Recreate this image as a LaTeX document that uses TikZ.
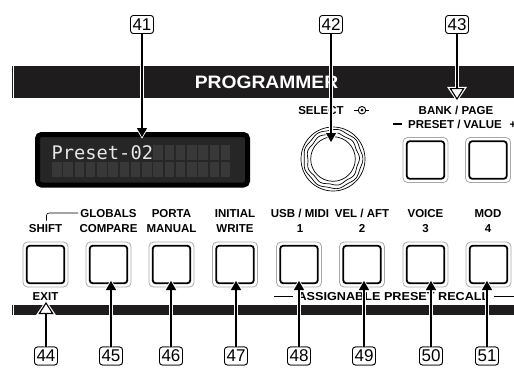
\documentclass[tikz,border=0pt]{standalone}
\usepackage{fontspec}
\setmainfont{Liberation Sans}
\newfontfamily\lcdfont{DejaVu Sans Mono}
\usetikzlibrary{arrows.meta,calc}
\definecolor{barblack}{HTML}{1F1C1D}
\definecolor{lcdbg}{HTML}{262626}
\definecolor{lcdcell}{HTML}{383838}
\definecolor{lcdtext}{HTML}{E6E6E6}
\definecolor{btngray}{HTML}{A8A8A8}
\begin{document}
\begin{tikzpicture}[x=1pt,y=-1pt,
 lbl/.style={font=\bfseries\fontsize{11.5}{11.5}\selectfont, inner sep=0pt, anchor=base},
 numbox/.style={draw, line width=0.8pt, rounded corners=3pt, minimum width=23pt, minimum height=18pt, inner sep=0pt, fill=white, font=\fontsize{17}{17}\selectfont},
 btnouter/.style={draw=btngray, line width=0.8pt, fill=white, rounded corners=4.5pt, minimum size=45pt, inner sep=0pt},
 btninner/.style={draw=black, line width=1.8pt, rounded corners=3pt, minimum size=37.5pt, inner sep=0pt},
 halo/.style={draw=white, line width=4pt, shorten >=-1.8pt},
 solidhalo/.style={halo, -{Triangle[length=12pt,width=13pt]}},
 openhalo/.style={halo, -{Triangle[length=15pt,width=19pt]}},
 solidtip/.style={draw=black, line width=1.2pt, -{Triangle[length=9pt,width=10pt]}},
 opentip/.style={draw=black, line width=1.1pt, -{Triangle[length=12pt,width=15pt,fill=white]}},
 cell/.style={fill=lcdcell},
]
\useasboundingbox (0,0) rectangle (514,367);

% bars
\fill[barblack] (14,66) rectangle (514,97.5);
\draw[barblack, line width=0.9pt] (12.3,66) -- (12.3,97.5);
\fill[barblack] (14,304.5) rectangle (514,315);
\draw[barblack, line width=0.9pt] (12.3,304.5) -- (12.3,315);
\node[anchor=base, inner sep=0pt, text=white, font=\bfseries\fontsize{18}{18}\selectfont] (title) at (266.5,88.5) {\scalebox{1.07}[1]{PROGRAMMER}};

% display
\node[draw=black, line width=5pt, rounded corners=4pt, fill=lcdbg, minimum width=210pt, minimum height=50.5pt, inner sep=0pt] (disp) at (142.5,159.75) {};
\foreach \i in {9,...,15} \fill[cell] ({52+11.25*\i},145) rectangle ++(9.5,15);
\foreach \i in {0,...,15} \fill[cell] ({52+11.25*\i},162) rectangle ++(9.5,15);
\node[anchor=base west, inner sep=0pt, text=lcdtext, font=\lcdfont\fontsize{18.7}{19}\selectfont] (dtext) at (51.5,159) {Preset-02};

% knob
\node[circle, draw=black, line width=0.7pt, minimum size=64pt, inner sep=0pt] (knob) at (333,159) {};
\begin{scope}[shift={(knob.center)}]
 \draw[line width=0.7pt] plot[domain=0:360, samples=145, smooth] (\x:{29.3+0.6*cos(9*\x)}) -- cycle;
 \draw[line width=0.7pt] plot[domain=0:360, samples=145, smooth] (\x:{25.8+0.7*cos(9*\x+20)}) -- cycle;
 \draw[line width=0.7pt] (0,0) circle (22.3);
\end{scope}

% select / bank labels
\node[lbl] (select) at (321,114) {SELECT};
\node[circle, draw=black, line width=0.9pt, minimum size=7.5pt, inner sep=0pt] (tgt) at (362,110.2) {};
\fill (tgt.center) circle (1.5pt);
\draw[line width=0.9pt] (tgt.west) -- ++(-3.5,0);
\draw[line width=0.9pt] (tgt.east) -- ++(2.5,0);
\node[lbl] (bank) at (456,114) {BANK / PAGE};
\node[lbl] (preset) at (455,128) {PRESET / VALUE};
\node[lbl] (minus) at (397.5,128) {\rule[2.6pt]{8.5pt}{2.3pt}};
\node[lbl] (plus) at (513,128) {+};

% buttons
\foreach \nm/\cx/\cy in {bp/425.5/160, bv/488/160,
  b44/45.5/264.5, b45/108.5/264.5, b46/171.5/264.5, b47/235/264.5,
  b48/299/264.5, b49/362/264.5, b50/425.5/264.5, b51/488.5/264.5} {
  \node[btnouter] (\nm o) at (\cx,\cy) {};
  \node[btninner] (\nm) at (\cx,\cy) {};
}

% row labels
\node[lbl] (nshift) at (45.5,232) {SHIFT};
\node[lbl] (globals) at (108.5,217) {GLOBALS};
\node[lbl] (compare) at (108.5,232) {COMPARE};
\node[lbl] (porta) at (171.5,217) {PORTA};
\node[lbl] (manual) at (171.5,232) {MANUAL};
\node[lbl] (initial) at (235,217) {INITIAL};
\node[lbl] (write) at (235,232) {WRITE};
\node[lbl] (usb) at (300,217) {USB / MIDI};
\node[lbl] (one) at (300,232) {1};
\node[lbl] (vel) at (362,217) {VEL / AFT};
\node[lbl] (two) at (362,232) {2};
\node[lbl] (voice) at (425.5,217) {VOICE};
\node[lbl] (three) at (425.5,232) {3};
\node[lbl] (mod) at (488,217) {MOD};
\node[lbl] (four) at (488,232) {4};
\draw[line width=0.6pt, rounded corners=2.5pt] (46.5,220.5) |- ([xshift=-2pt]globals.west);
\node[lbl] (exit) at (45.5,300) {EXIT};
\node[lbl] (assign) at (393.5,300) {\scalebox{1.1}[1]{ASSIGNABLE PRESET RECALL}};
\draw[line width=0.6pt] ([xshift=-4pt]assign.west) -- ++(-19,0);
\draw[line width=0.6pt] ([xshift=4pt]assign.east) -- (514,0 |- assign.east);

% number boxes (positions)
\node[numbox] (l41) at (142,24.5) {41};
\node[numbox] (l42) at (331,24.5) {42};
\node[numbox] (l43) at (457,24.5) {43};
\foreach \n/\x in {44/46, 45/111, 46/171, 47/236, 48/299, 49/364, 50/431, 51/487}
  \node[numbox] (l\n) at (\x,356) {\n};

% tips
\coordinate (t41) at (142,137);
\coordinate (t42) at (331,142);
\coordinate (t43) at (457,100);
\coordinate (t44) at (46,302);
\foreach \n/\x in {45/111, 46/171, 47/236, 48/299, 49/364, 50/431, 51/487}
  \coordinate (t\n) at (\x,281);

% arrows
\foreach \n in {41,42} { \draw[solidhalo] (l\n.south) -- (t\n); }
\foreach \n in {45,...,51} { \draw[solidhalo] (l\n.north) -- (t\n); }
\draw[openhalo] (l43.south) -- (t43);
\draw[openhalo] (l44.north) -- (t44);
\foreach \n in {41,42} { \draw[solidtip] (l\n.south) -- (t\n); }
\foreach \n in {45,...,51} { \draw[solidtip] (l\n.north) -- (t\n); }
\draw[opentip] (l43.south) -- (t43);
\draw[opentip] (l44.north) -- (t44);

% redraw number boxes on top
\foreach \n/\x in {41/142, 42/331, 43/457}
  \node[numbox] at (\x,24.5) {\n};
\foreach \n/\x in {44/46, 45/111, 46/171, 47/236, 48/299, 49/364, 50/431, 51/487}
  \node[numbox] at (\x,356) {\n};
\end{tikzpicture}
\end{document}
